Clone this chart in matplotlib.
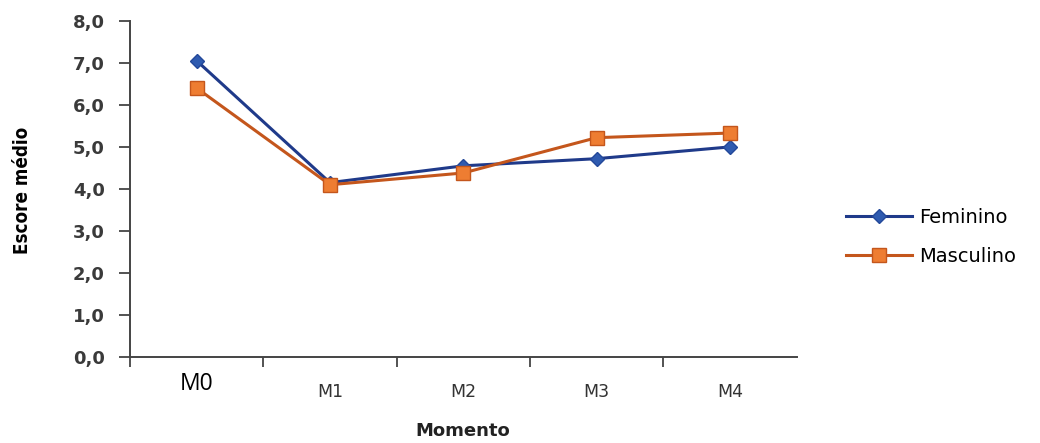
import matplotlib
matplotlib.use("Agg")
import matplotlib.pyplot as plt
import numpy as np

momentos = ["M0", "M1", "M2", "M3", "M4"]
feminino = [7.05, 4.15, 4.55, 4.72, 5.00]
masculino = [6.40, 4.10, 4.38, 5.22, 5.33]
y_ticks = [0, 1, 2, 3, 4, 5, 6, 7, 8]

fig = plt.figure(figsize=(10.4, 4.43), dpi=100)
ax = fig.add_axes([0.125, 0.194, 0.641, 0.759])

x = np.arange(len(momentos))
ax.plot(x, feminino, color="#1F3A8A", lw=2.2, marker="D", ms=7,
        markerfacecolor="#2F5BB0", markeredgecolor="#23489A", label="Feminino", zorder=3)
ax.plot(x, masculino, color="#C4561C", lw=2.2, marker="s", ms=10,
        markerfacecolor="#EE7D32", markeredgecolor="#C4561C", label="Masculino", zorder=3)

ax.set_xlim(-0.5, 4.5)
ax.set_ylim(0, 8)
ax.set_yticks(y_ticks)
ax.set_yticklabels([f"{v:.1f}".replace(".", ",") for v in y_ticks],
                   fontsize=13, fontweight="bold", color="#3a3a3a", family="DejaVu Sans")

# category boundaries carry the tick marks, labels sit at category centres
ax.set_xticks(np.arange(-0.5, 4.0, 1.0))
ax.set_xticklabels([])
ax.set_xticks(x, minor=True)
ax.set_xticklabels(momentos, minor=True)
ax.tick_params(axis="x", which="major", length=7, width=1.3, color="#444444", direction="out")
ax.tick_params(axis="x", which="minor", length=0, pad=19)
ax.tick_params(axis="y", length=8, width=1.3, color="#444444", direction="out", pad=10)

for i, lab in enumerate(ax.get_xticklabels(minor=True)):
    if i == 0:
        lab.set_fontsize(16.5)
        lab.set_family("Open Sans")
        lab.set_color("black")
        lab.set_y(0.035)
    else:
        lab.set_fontsize(12.5)
        lab.set_family("DejaVu Sans")
        lab.set_color("#333333")

for side in ("top", "right"):
    ax.spines[side].set_visible(False)
for side in ("left", "bottom"):
    ax.spines[side].set_color("#444444")
    ax.spines[side].set_linewidth(1.4)

fig.text(0.022, 0.57, "Escore médio", rotation=90, ha="center", va="center",
         fontsize=13.5, fontweight="bold", family="DejaVu Sans", fontstretch="condensed",
         color="black")
fig.text(0.445, 0.028, "Momento", ha="center", va="center",
         fontsize=13, fontweight="bold", family="DejaVu Sans", color="#222222")

fig.legend(loc="center left", bbox_to_anchor=(0.797, 0.465), frameon=False,
           handlelength=3.4, labelspacing=1.05, handletextpad=0.35,
           prop={"family": "DejaVu Sans", "size": 14})

fig.savefig("out.png", dpi=100)
